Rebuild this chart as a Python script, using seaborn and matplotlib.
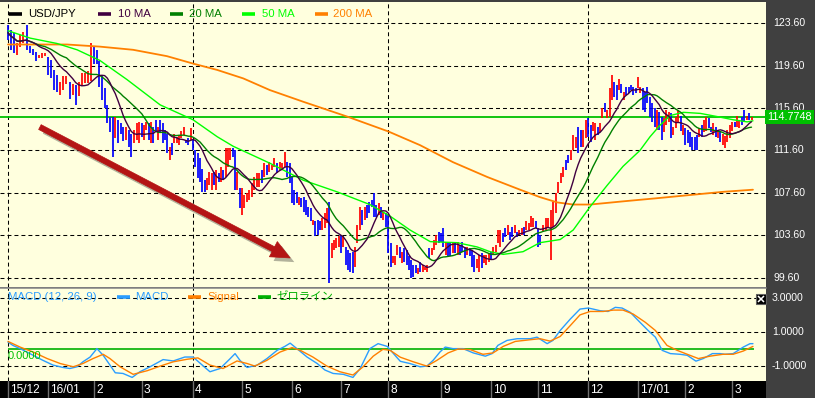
import numpy as np
import pandas as pd
import matplotlib
matplotlib.use("Agg")
import matplotlib.pyplot as plt
import matplotlib.patheffects as pe
import matplotlib.transforms as mtrans
from matplotlib.lines import Line2D
import seaborn as sns

sns.set_style("white")
plt.rcParams['font.family'] = ['Liberation Sans', 'Noto Sans CJK JP', 'DejaVu Sans']

# --- x axis: month ticks, in months from the first bar ---
tick_pos = [0, 0.83, 1.78, 2.77, 3.83, 4.84, 5.88, 6.89, 7.87, 8.96, 10.0, 10.97, 12.01, 13.04, 14.02, 14.99]
tick_labels = ['15/12', '16/01', '2', '3', '4', '5', '6', '7', '8', '9', '10', '11', '12', '17/01', '2', '3']
grid_ticks = [0, 4, 8, 12]
bars_per_month = [13, 15, 18, 22, 21, 20, 21, 20, 23, 21, 20, 20, 21, 20, 20, 9]
last_month_days = 20

# --- USD/JPY daily bars (high / low / up-day flag), month by month ---
highs = [
    123.4, 123.0, 122.7, 121.7, 122.5, 122.8, 123.4, 121.5, 121.2, 120.9, 120.6, 120.8, 120.8,
    120.4, 120.1, 119.2, 118.7, 118.1, 118.6, 118.6, 118.1, 117.9, 117.8, 118.1, 118.9, 118.9, 119.1, 121.7,
    121.4, 121.1, 120.0, 118.7, 117.5, 115.9, 114.8, 114.8, 114.8, 114.5, 114.2, 113.8, 113.8, 113.5, 113.2, 113.5, 114.2, 114.3,
    114.2, 114.0, 114.3, 114.2, 114.3, 113.8, 114.5, 113.8, 114.5, 114.2, 113.5, 113.2, 111.9, 112.3, 113.2, 112.9, 113.1, 113.4, 113.8, 112.6, 112.8, 113.7,
    112.6, 111.6, 111.4, 110.9, 109.9, 108.8, 109.0, 109.6, 109.5, 109.6, 109.8, 109.5, 110.0, 109.8, 111.8, 111.8, 111.8, 111.8, 111.6, 109.6, 108.1,
    108.1, 107.4, 107.6, 107.9, 108.5, 109.1, 109.5, 109.5, 109.8, 110.4, 110.2, 110.5, 110.2, 110.9, 110.4, 110.5, 110.4, 111.5, 110.5, 110.4,
    109.1, 107.9, 107.7, 107.2, 107.1, 107.2, 106.9, 106.3, 106.2, 105.0, 104.9, 105.0, 104.9, 105.2, 105.7, 106.2, 106.7, 102.9, 103.2, 103.3, 103.5,
    103.6, 103.5, 102.5, 102.2, 101.9, 102.0, 102.5, 104.6, 106.3, 106.0, 106.3, 106.5, 106.7, 106.9, 107.6, 106.5, 106.6, 106.3, 105.8, 105.7,
    105.5, 102.9, 101.6, 101.6, 102.7, 102.5, 102.0, 102.4, 102.2, 101.6, 101.3, 100.8, 100.8, 100.5, 101.1, 100.8, 100.6, 100.8, 102.4, 102.4, 103.2, 103.6, 103.9,
    103.8, 104.3, 103.0, 102.9, 103.0, 103.0, 102.9, 103.0, 102.7, 103.0, 102.5, 102.5, 102.4, 102.2, 101.7, 101.4, 101.7, 101.9, 101.7, 101.7, 101.9,
    102.0, 102.5, 102.7, 104.1, 104.1, 103.8, 104.3, 104.6, 103.9, 104.4, 104.6, 103.9, 104.1, 104.3, 104.4, 104.9, 104.8, 105.4, 105.2, 104.9,
    104.3, 103.6, 104.6, 105.2, 105.2, 106.0, 106.7, 107.6, 108.6, 109.5, 110.0, 110.7, 111.2, 111.6, 113.1, 112.9, 113.8, 113.5, 113.5, 114.5,
    114.7, 114.0, 114.3, 114.2, 113.8, 114.2, 115.6, 116.1, 115.4, 117.5, 118.7, 118.1, 117.8, 118.3, 117.9, 117.1, 117.6, 117.6, 117.8, 117.6, 117.5,
    118.5, 117.6, 117.5, 117.1, 117.6, 116.6, 116.1, 115.6, 115.4, 115.2, 114.8, 114.7, 115.4, 115.2, 115.1, 113.8, 114.8, 115.4, 114.9, 114.0,
    113.7, 113.5, 113.3, 112.9, 112.9, 113.1, 113.7, 114.0, 114.5, 114.8, 114.7, 113.8, 114.2, 113.8, 113.5, 113.3, 113.2, 113.0, 113.5, 114.0,
    114.3, 114.3, 114.9, 114.5, 114.8, 115.4, 114.9, 115.1, 114.8,
]
lows = [
    122.0, 121.1, 120.8, 120.6, 121.4, 121.7, 121.1, 120.8, 120.6, 120.0, 120.3, 120.3, 120.5,
    118.7, 118.4, 117.3, 117.1, 116.8, 117.3, 117.9, 116.5, 116.8, 115.9, 116.7, 117.8, 118.0, 118.0, 118.2,
    119.8, 119.8, 117.6, 116.4, 115.6, 114.2, 113.3, 111.0, 112.8, 112.3, 113.2, 112.5, 112.6, 111.9, 111.0, 112.3, 112.6, 112.3,
    112.9, 112.6, 113.5, 112.6, 112.3, 112.3, 113.3, 112.6, 113.3, 112.3, 112.6, 111.4, 110.7, 111.2, 112.3, 112.3, 112.1, 112.8, 113.1, 112.3, 112.1, 112.6,
    111.6, 110.0, 109.0, 108.6, 107.7, 107.7, 107.9, 108.3, 107.9, 108.3, 107.9, 108.6, 108.6, 108.8, 109.1, 110.0, 110.7, 111.0, 107.9, 107.9, 106.2,
    105.5, 106.2, 106.7, 106.9, 107.2, 107.9, 108.2, 108.2, 108.5, 109.1, 109.3, 109.6, 109.8, 110.0, 109.5, 109.8, 109.9, 110.0, 109.1, 108.5,
    106.6, 106.5, 106.6, 106.5, 106.3, 105.8, 105.5, 105.3, 104.9, 104.6, 103.5, 103.6, 104.1, 104.1, 104.3, 104.8, 99.1, 101.5, 102.2, 102.4, 102.5,
    101.9, 102.5, 100.8, 100.3, 100.1, 100.0, 100.6, 102.9, 104.1, 104.6, 105.0, 105.2, 105.7, 106.3, 105.3, 105.3, 105.5, 105.2, 105.0, 104.4,
    101.9, 100.6, 101.0, 100.8, 101.7, 101.5, 101.0, 101.1, 100.8, 100.3, 99.6, 99.7, 100.0, 99.9, 100.1, 100.1, 100.3, 100.1, 101.5, 101.7, 102.2, 102.7, 102.9,
    103.0, 102.5, 101.7, 101.6, 101.6, 101.9, 101.9, 101.7, 101.7, 102.0, 101.5, 101.7, 101.6, 100.6, 100.1, 100.5, 100.1, 100.5, 101.0, 100.8, 101.1,
    101.3, 101.7, 102.0, 102.9, 102.5, 103.0, 103.4, 103.6, 103.2, 103.4, 103.8, 103.4, 103.6, 103.6, 103.6, 104.1, 104.1, 104.4, 104.4, 104.3,
    102.5, 102.7, 103.9, 104.1, 104.3, 101.3, 104.4, 105.7, 107.6, 108.5, 109.1, 109.8, 110.4, 110.7, 111.6, 111.8, 111.4, 111.9, 111.9, 112.8,
    112.9, 112.4, 113.4, 112.6, 113.1, 113.3, 114.7, 115.2, 114.7, 114.8, 116.4, 116.6, 116.4, 117.3, 117.0, 116.4, 116.8, 117.0, 117.3, 116.8, 117.0,
    117.5, 117.0, 115.4, 115.2, 116.1, 114.8, 114.3, 113.8, 113.5, 113.5, 112.6, 113.3, 114.0, 114.3, 112.8, 113.1, 113.7, 114.3, 113.4, 113.1,
    112.1, 112.3, 111.9, 111.6, 111.6, 111.6, 112.9, 112.9, 113.3, 113.4, 113.7, 113.3, 113.1, 112.9, 112.8, 112.4, 112.1, 111.8, 112.4, 112.8,
    113.4, 113.8, 113.8, 113.7, 114.0, 114.3, 114.5, 114.5, 114.5,
]
up_day = [
    0, 0, 0, 1, 1, 1, 0, 0, 0, 0, 1, 1, 1,
    0, 0, 0, 0, 1, 1, 1, 0, 1, 0, 1, 1, 1, 1, 1,
    0, 0, 0, 0, 0, 0, 0, 0, 1, 0, 0, 0, 1, 0, 0, 1, 1, 1,
    0, 1, 1, 0, 1, 0, 0, 1, 0, 0, 0, 0, 1, 0, 1, 1, 1, 1, 1, 0, 0, 1,
    0, 0, 0, 0, 0, 0, 1, 1, 1, 0, 1, 0, 1, 0, 1, 1, 1, 0, 0, 1, 0,
    1, 1, 1, 1, 1, 1, 1, 1, 0, 1, 0, 1, 1, 1, 0, 1, 1, 1, 0, 0,
    0, 0, 0, 1, 0, 0, 0, 0, 0, 1, 0, 0, 0, 1, 1, 1, 0, 1, 1, 1, 1,
    0, 1, 0, 0, 0, 0, 1, 1, 1, 0, 1, 0, 0, 0, 0, 0, 1, 0, 1, 0,
    0, 0, 1, 1, 1, 0, 1, 0, 0, 0, 0, 0, 0, 1, 0, 1, 1, 1, 0, 1, 1, 1, 0,
    0, 0, 1, 0, 0, 1, 0, 1, 0, 0, 0, 1, 0, 0, 0, 1, 1, 0, 1, 1, 1,
    0, 1, 1, 1, 1, 0, 0, 1, 0, 0, 1, 0, 1, 1, 0, 1, 1, 1, 1, 0,
    0, 0, 1, 1, 1, 1, 1, 1, 1, 1, 1, 0, 0, 1, 1, 1, 0, 0, 1, 1,
    0, 0, 1, 1, 0, 1, 1, 0, 1, 1, 1, 0, 0, 1, 0, 1, 0, 0, 0, 0, 0,
    1, 1, 0, 0, 0, 0, 0, 0, 1, 0, 0, 1, 1, 1, 0, 1, 1, 1, 0, 1,
    0, 0, 0, 0, 0, 0, 1, 0, 1, 1, 0, 0, 1, 0, 1, 0, 1, 1, 1, 1,
    1, 0, 1, 1, 0, 0, 1, 0, 1,
]
last_price = 114.7748

# --- 50 MA and 200 MA (month position, price) ---
ma50_t = [0.0, 0.46, 1.01, 1.43, 1.90, 2.46, 3.15, 3.83, 4.33, 4.66, 5.42, 6.11, 6.81, 7.49, 7.91, 8.32,
          8.74, 9.30, 9.71, 9.98, 10.25, 10.66, 11.01, 11.43, 11.70, 12.05, 12.40, 12.73, 13.08, 13.29,
          13.50, 13.71, 13.98, 14.33, 14.68, 15.01, 15.30, 15.42]
ma50_v = [122.9, 122.2, 121.7, 121.1, 120.1, 118.3, 115.9, 114.5, 112.9, 112.0, 110.4, 108.8, 107.7, 106.5, 105.4, 104.1,
          103.0, 102.9, 102.5, 102.05, 101.8, 102.05, 102.9, 103.2, 104.1, 106.3, 108.3, 110.1, 111.6, 112.9,
          114.0, 114.9, 115.2, 115.1, 114.8, 114.5, 114.3, 114.4]
ma200_t = [0.0, 1.22, 1.90, 2.59, 3.29, 3.83, 4.33, 4.87, 5.42, 6.11, 7.02, 7.87, 8.53, 9.21, 9.92, 10.60,
           11.01, 11.37, 11.70, 12.05, 12.73, 13.44, 14.12, 14.80, 15.42]
ma200_v = [121.6, 121.6, 121.4, 121.1, 120.5, 119.8, 119.2, 118.4, 117.3, 116.2, 114.8, 113.4, 112.1, 110.5, 109.1, 107.9,
           107.2, 106.7, 106.5, 106.5, 106.8, 107.1, 107.4, 107.7, 107.9]

# --- MACD (12, 26, 9) ---
macd_t = [0.00, 0.10, 0.25, 0.39, 0.52, 0.72, 0.93, 1.14, 1.28, 1.43, 1.55, 1.70, 1.84, 1.97, 2.11, 2.22, 2.38,
          2.57, 2.73, 2.94, 3.21, 3.42, 3.66, 3.83, 4.02, 4.18, 4.39, 4.60, 4.70, 4.80, 4.95, 5.16, 5.36, 5.57,
          5.73, 5.84, 5.98, 6.19, 6.40, 6.56, 6.73, 6.94, 7.14, 7.29, 7.49, 7.66, 7.85, 8.01, 8.12, 8.32, 8.53,
          8.67, 8.80, 8.94, 9.05, 9.21, 9.42, 9.63, 9.88, 10.02, 10.14, 10.33, 10.54, 10.81, 10.95, 11.16,
          11.28, 11.43, 11.64, 11.84, 12.01, 12.11, 12.26, 12.42, 12.57, 12.71, 12.88, 13.08, 13.25, 13.40,
          13.54, 13.71, 13.91, 14.06, 14.24, 14.39, 14.58, 14.74, 14.84, 15.01, 15.22, 15.36, 15.42]
macd_v = [0.42, 0.23, 0.04, -0.16, -0.35, -0.64, -0.92, -1.06, -1.12, -1.02, -0.73, -0.45, 0.04, -0.35, -0.92, -1.37, -1.41,
          -1.64, -1.31, -1.02, -0.60, -0.68, -0.45, -0.45, -0.92, -1.31, -1.12, -0.54, -0.25, -0.64, -1.06, -0.92, -0.54, -0.06,
          0.17, 0.36, 0.04, -0.45, -0.83, -1.21, -1.41, -1.46, -1.64, -1.12, 0.04, 0.33, 0.17, -0.35, -0.70, -0.83, -1.02,
          -0.98, -0.64, -0.16, 0.13, 0.04, 0.04, -0.21, -0.40, -0.25, 0.23, 0.52, 0.62, 0.62, 0.71, 0.33,
          0.52, 1.10, 1.77, 2.35, 2.41, 2.35, 2.25, 2.21, 2.45, 2.41, 2.16, 1.58, 1.10, 0.71,
          -0.06, -0.25, -0.29, -0.35, -0.69, -0.54, -0.25, -0.25, -0.29, -0.25, 0.13, 0.33, 0.33]
signal_t = [0.00, 0.25, 0.52, 0.81, 1.08, 1.35, 1.55, 1.76, 1.97, 2.11, 2.32, 2.59, 2.88, 3.15, 3.42, 3.71, 3.93,
            4.18, 4.45, 4.74, 4.95, 5.11, 5.36, 5.63, 5.88, 6.05, 6.31, 6.60, 6.87, 7.14, 7.35, 7.56, 7.76, 7.91,
            8.12, 8.39, 8.67, 8.88, 9.11, 9.32, 9.57, 9.83, 10.04, 10.25, 10.50, 10.81, 11.01, 11.22, 11.43,
            11.64, 11.84, 12.05, 12.32, 12.53, 12.73, 12.94, 13.19, 13.40, 13.64, 13.85, 14.06, 14.29, 14.53,
            14.80, 15.01, 15.22, 15.42]
signal_v = [0.46, 0.13, -0.16, -0.54, -0.83, -1.02, -0.83, -0.54, -0.29, -0.54, -1.02, -1.46, -1.25, -0.98, -0.73, -0.58, -0.50,
            -0.92, -1.12, -0.68, -0.83, -0.98, -0.64, -0.16, 0.10, -0.06, -0.45, -0.98, -1.31, -1.50, -1.02, -0.40, 0.00, -0.06,
            -0.46, -0.73, -0.98, -0.64, -0.21, 0.02, -0.02, -0.29, -0.21, 0.17, 0.46, 0.56, 0.62, 0.48, 0.75,
            1.39, 2.01, 2.21, 2.21, 2.29, 2.29, 2.06, 1.58, 1.10, 0.23, -0.06, -0.29, -0.54, -0.40,
            -0.29, -0.29, -0.10, 0.17]

price_grid = [99.6, 103.6, 107.6, 111.6, 115.6, 119.6, 123.6]
macd_grid = [3.0, 1.0, -1.0]

# colours
BG = '#ffffde'
UP, DOWN = '#ff0000', '#0000ff'
C10, C20, C50, C200 = '#400040', '#008000', '#00ff00', '#ff8000'
CMACD, CSIG, CZERO = '#2a9dff', '#ff7f00', '#00b000'

# ---------------------------------------------------------------------------
# bar positions: bars spread evenly between their month ticks
bar_t = []
for k, n in enumerate(bars_per_month):
    if k + 1 < len(tick_pos):
        step = (tick_pos[k + 1] - tick_pos[k]) / n
    else:
        step = 1.0 / last_month_days
    bar_t += [tick_pos[k] + j * step for j in range(n)]

bars = pd.DataFrame({"t": bar_t, "high": highs, "low": lows, "up": up_day})
bars["mid"] = (bars["high"] + bars["low"]) / 2
bars["ma10"] = bars["mid"].rolling(10, min_periods=1).mean()
bars["ma20"] = bars["mid"].rolling(20, min_periods=1).mean()

W, H = 815, 398
fig = plt.figure(figsize=(W / 100, H / 100), dpi=100, facecolor='#404040')


def px_rect(x0, y0, x1, y1):
    return [x0 / W, 1 - y1 / H, (x1 - x0) / W, (y1 - y0) / H]


ax = fig.add_axes(px_rect(0, 2, 766, 287))
axm = fig.add_axes(px_rect(0, 288, 766, 381))
axx = fig.add_axes(px_rect(0, 381, 766, 398))

XLIM = (-0.166, 15.69)
dash = (0, (3.8, 2.9))

# ---- price panel ----
ax.set_facecolor(BG)
ax.set_xlim(*XLIM)
ax.set_ylim(98.72, 125.61)
for p in price_grid:
    ax.axhline(p, color='black', lw=0.75, ls=dash, zorder=1)
for i in grid_ticks:
    ax.axvline(tick_pos[i], color='black', lw=0.75, ls=dash, zorder=1)

ax.axhline(last_price, color='#00c000', lw=1.3, zorder=2)
cols = [UP if u else DOWN for u in bars["up"]]
ax.vlines(bars["t"], bars["low"], bars["high"], colors=cols, lw=1.25, zorder=3)

sns.lineplot(x=ma200_t, y=ma200_v, ax=ax, color=C200, lw=1.3, zorder=4)
sns.lineplot(x=ma50_t, y=ma50_v, ax=ax, color=C50, lw=1.0, zorder=4)
sns.lineplot(data=bars, x="t", y="ma20", ax=ax, color=C20, lw=1.0, zorder=5)
sns.lineplot(data=bars, x="t", y="ma10", ax=ax, color=C10, lw=1.0, zorder=6)

# trend arrow (filled shape with a soft drop shadow)
arr = ax.annotate("", xy=(5.84, 101.46), xytext=(0.66, 113.81),
                  arrowprops=dict(arrowstyle='simple,head_length=1.05,head_width=0.95,tail_width=0.3',
                                  fc='#b41414', ec='#b41414', lw=0.5, mutation_scale=13,
                                  shrinkA=0, shrinkB=0), zorder=7)
arr.arrow_patch.set_path_effects([pe.SimplePatchShadow(offset=(3, -3), shadow_rgbFace='black', alpha=0.3),
                                  pe.Normal()])

trans = mtrans.blended_transform_factory(ax.transAxes, ax.transData)
for p in price_grid:
    ax.text(1 + 7 / 766, p, f"{p:.2f}", transform=trans, color='white', fontsize=7.6,
            ha='left', va='center', clip_on=False)
ax.text(1 + 1 / 766, last_price, f"{last_price:.4f}", transform=trans, color='white', fontsize=7.8,
        ha='left', va='center', clip_on=False,
        bbox=dict(boxstyle='square,pad=0.18', fc='#00c000', ec='none'))

ax.set_xticks([])
ax.set_yticks([])
ax.set_xlabel("")
ax.set_ylabel("")
for s in ax.spines.values():
    s.set_visible(False)

# ---- MACD panel ----
axm.set_facecolor(BG)
axm.set_xlim(*XLIM)
axm.set_ylim(-1.85, 3.58)
for v in macd_grid:
    axm.axhline(v, color='black', lw=0.75, ls=dash, zorder=1)
for i in grid_ticks:
    axm.axvline(tick_pos[i], color='black', lw=0.75, ls=dash, zorder=1)
axm.hlines(0, bar_t[0], bar_t[-1] + 0.05, color=CZERO, lw=1.2, zorder=2)
sns.lineplot(x=macd_t, y=macd_v, ax=axm, color=CMACD, lw=1.0, zorder=3)
sns.lineplot(x=signal_t, y=signal_v, ax=axm, color=CSIG, lw=1.0, zorder=4)
axm.text(0.0, -0.12, "0.0000", color='#00c000', fontsize=8, ha='left', va='top', zorder=5)

transm = mtrans.blended_transform_factory(axm.transAxes, axm.transData)
for v in macd_grid:
    axm.text(1 + 6 / 766, v, f"{v:.4f}", transform=transm, color='white', fontsize=7.6,
             ha='left', va='center', clip_on=False)
# small close box at the right edge of the panel
axm.plot([761 / 766], [0.88], transform=axm.transAxes, marker='s', ms=7, mfc='black', mec='#606060',
         mew=0.8, clip_on=False, zorder=6)
axm.plot([761 / 766], [0.88], transform=axm.transAxes, marker='x', ms=4.2, mew=1.1, color='white',
         clip_on=False, zorder=7)
axm.set_xticks([])
axm.set_yticks([])
axm.set_xlabel("")
axm.set_ylabel("")
for s in axm.spines.values():
    s.set_visible(False)

fig.add_artist(Line2D([0, 766 / W], [1 - 287.5 / H] * 2, color='#8c8c8c', lw=1.2))

# ---- date strip ----
axx.set_facecolor('black')
axx.set_xlim(*XLIM)
axx.set_ylim(0, 1)
for t, lab in zip(tick_pos, tick_labels):
    axx.axvline(t, color='#707070', lw=1.0)
    axx.text(t + 0.045, 0.45, lab, color='white', fontsize=8.6, ha='left', va='center')
axx.set_xticks([])
axx.set_yticks([])
for s in axx.spines.values():
    s.set_visible(False)

# ---- legends (drawn as in the terminal header rows) ----
def legend_item(x_line, x_text, y, color, label, size=8.2, family=None):
    yy = 1 - y / H
    fig.add_artist(Line2D([x_line / W, (x_line + 13) / W], [yy, yy], color=color, lw=2.6,
                          solid_capstyle='butt'))
    kw = {} if family is None else {"family": family}
    fig.text(x_text / W, yy, label, color=color, fontsize=size, ha='left', va='center', **kw)


legend_item(9, 28, 14, 'black', 'USD/JPY')
legend_item(98, 118, 14, C10, '10 MA')
legend_item(170, 189, 14, C20, '20 MA')
legend_item(242, 262, 14, C50, '50 MA')
legend_item(315, 333, 14, C200, '200 MA')

fig.text(8 / W, 1 - 297 / H, 'MACD (12, 26, 9)', color=CMACD, fontsize=8.2, ha='left', va='center')
legend_item(117, 135, 297, CMACD, 'MACD')
legend_item(188, 207, 297, CSIG, 'Signal')
legend_item(258, 276, 297, CZERO, 'ゼロライン', family=['Noto Sans CJK JP', 'DejaVu Sans'])

fig.savefig("out.png", dpi=100, facecolor=fig.get_facecolor())
